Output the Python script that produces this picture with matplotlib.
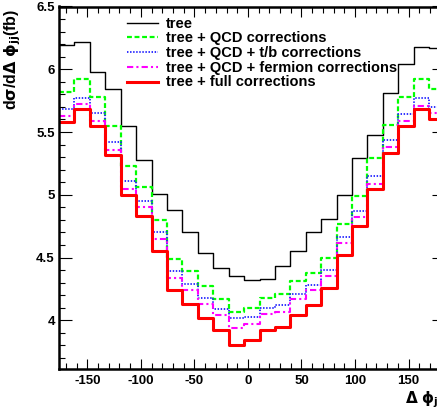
import numpy as np
import matplotlib
matplotlib.use("Agg")
import matplotlib.pyplot as plt

plt.rcParams['font.family'] = ['Liberation Sans', 'DejaVu Sans']
plt.rcParams['font.weight'] = 'bold'
plt.rcParams['mathtext.fontset'] = 'dejavusans'
plt.rcParams['mathtext.default'] = 'bf'
plt.rcParams['axes.unicode_minus'] = False

# 25 bins of 14.4 deg, histogram range -176.4 .. 183.6
bin_edges = -176.4 + 14.4 * np.arange(26)

tree = [6.19, 6.22, 5.98, 5.84, 5.55, 5.28, 5.01, 4.88, 4.70, 4.54, 4.42, 4.35, 4.32,
        4.33, 4.43, 4.55, 4.70, 4.81, 5.00, 5.29, 5.48, 5.81, 6.04, 6.18, 6.17]
qcd = [5.82, 5.92, 5.78, 5.55, 5.23, 5.06, 4.80, 4.49, 4.39, 4.27, 4.17, 4.07, 4.10,
       4.18, 4.21, 4.31, 4.38, 4.50, 4.77, 4.99, 5.29, 5.56, 5.78, 5.92, 5.84]
qcd_tb = [5.68, 5.77, 5.65, 5.42, 5.11, 4.95, 4.70, 4.39, 4.29, 4.18, 4.09, 4.02, 4.03,
          4.10, 4.12, 4.21, 4.28, 4.40, 4.66, 4.87, 5.15, 5.44, 5.64, 5.77, 5.70]
qcd_ferm = [5.63, 5.72, 5.59, 5.36, 5.05, 4.90, 4.65, 4.34, 4.24, 4.13, 4.04, 3.94, 3.97,
            4.05, 4.07, 4.17, 4.24, 4.35, 4.62, 4.82, 5.09, 5.38, 5.59, 5.71, 5.65]
full = [5.58, 5.68, 5.55, 5.32, 5.00, 4.83, 4.55, 4.24, 4.13, 4.02, 3.92, 3.80, 3.84,
        3.92, 3.95, 4.04, 4.12, 4.26, 4.52, 4.75, 5.05, 5.33, 5.55, 5.68, 5.60]

labels = ["tree", "tree + QCD corrections", "tree + QCD + t/b corrections",
          "tree + QCD + fermion corrections", "tree + full corrections"]

W, H = 437, 417
fig = plt.figure(figsize=(W / 100, H / 100), dpi=100)
ax = fig.add_axes([59 / W, 47.7 / H, 385.6 / W, 362.8 / H])

def hstep(vals, **kw):
    v = np.append(vals, vals[-1])
    return ax.step(bin_edges, v, where='post', **kw)[0]

h1 = hstep(tree, color='black', lw=1.0)
h2 = hstep(qcd, color='#00ff00', lw=1.6, dashes=(2.2, 1.2))
h3 = hstep(qcd_tb, color='#2020ff', lw=1.3, dashes=(0.8, 0.9))
h4 = hstep(qcd_ferm, color='#ff00ff', lw=1.5, dashes=(3, 1.5, 1, 1.5))
h5 = hstep(full, color='#ff0000', lw=2.2)

ax.set_xlim(-176.4, 183.6)
ax.set_ylim(3.61, 6.5)
ax.set_xticks([-150, -100, -50, 0, 50, 100, 150])
ax.set_xticks(np.arange(-170, 181, 10), minor=True)
ax.set_yticks([4, 4.5, 5, 5.5, 6, 6.5])
ax.set_yticks(np.arange(3.7, 6.5, 0.1), minor=True)
ax.set_yticklabels(['4', '4.5', '5', '5.5', '6', '6.5'])

ax.tick_params(which='both', direction='in', top=True, right=True, width=0.8,
               labelsize=9.5)
ax.tick_params(axis='x', which='major', length=7.2, pad=4)
ax.tick_params(axis='x', which='minor', length=4.3)
ax.tick_params(axis='y', which='major', length=9.1, pad=3)
ax.tick_params(axis='y', which='minor', length=4.3)
for s in ax.spines.values():
    s.set_linewidth(1.8)

ax.legend([h1, h2, h3, h4, h5], labels, loc='upper left',
          bbox_to_anchor=(127 / W, 1 - 16.5 / H), bbox_transform=fig.transFigure,
          frameon=False, borderpad=0, borderaxespad=0, handlelength=2.1,
          handleheight=0.6, handletextpad=0.6, labelspacing=0.05, fontsize=10.5)

fig.text(13 / W, 1 - 9 / H, r'd$\sigma$/d$\Delta$ $\phi_{jj}$(fb)', rotation=90,
         ha='center', va='top', fontsize=11.5, fontweight='bold')
fig.text(442 / W, 7 / H, r'$\Delta$ $\phi_{jj}$', ha='right', va='bottom',
         fontsize=11, fontweight='bold')

fig.savefig('out.png', dpi=100)
